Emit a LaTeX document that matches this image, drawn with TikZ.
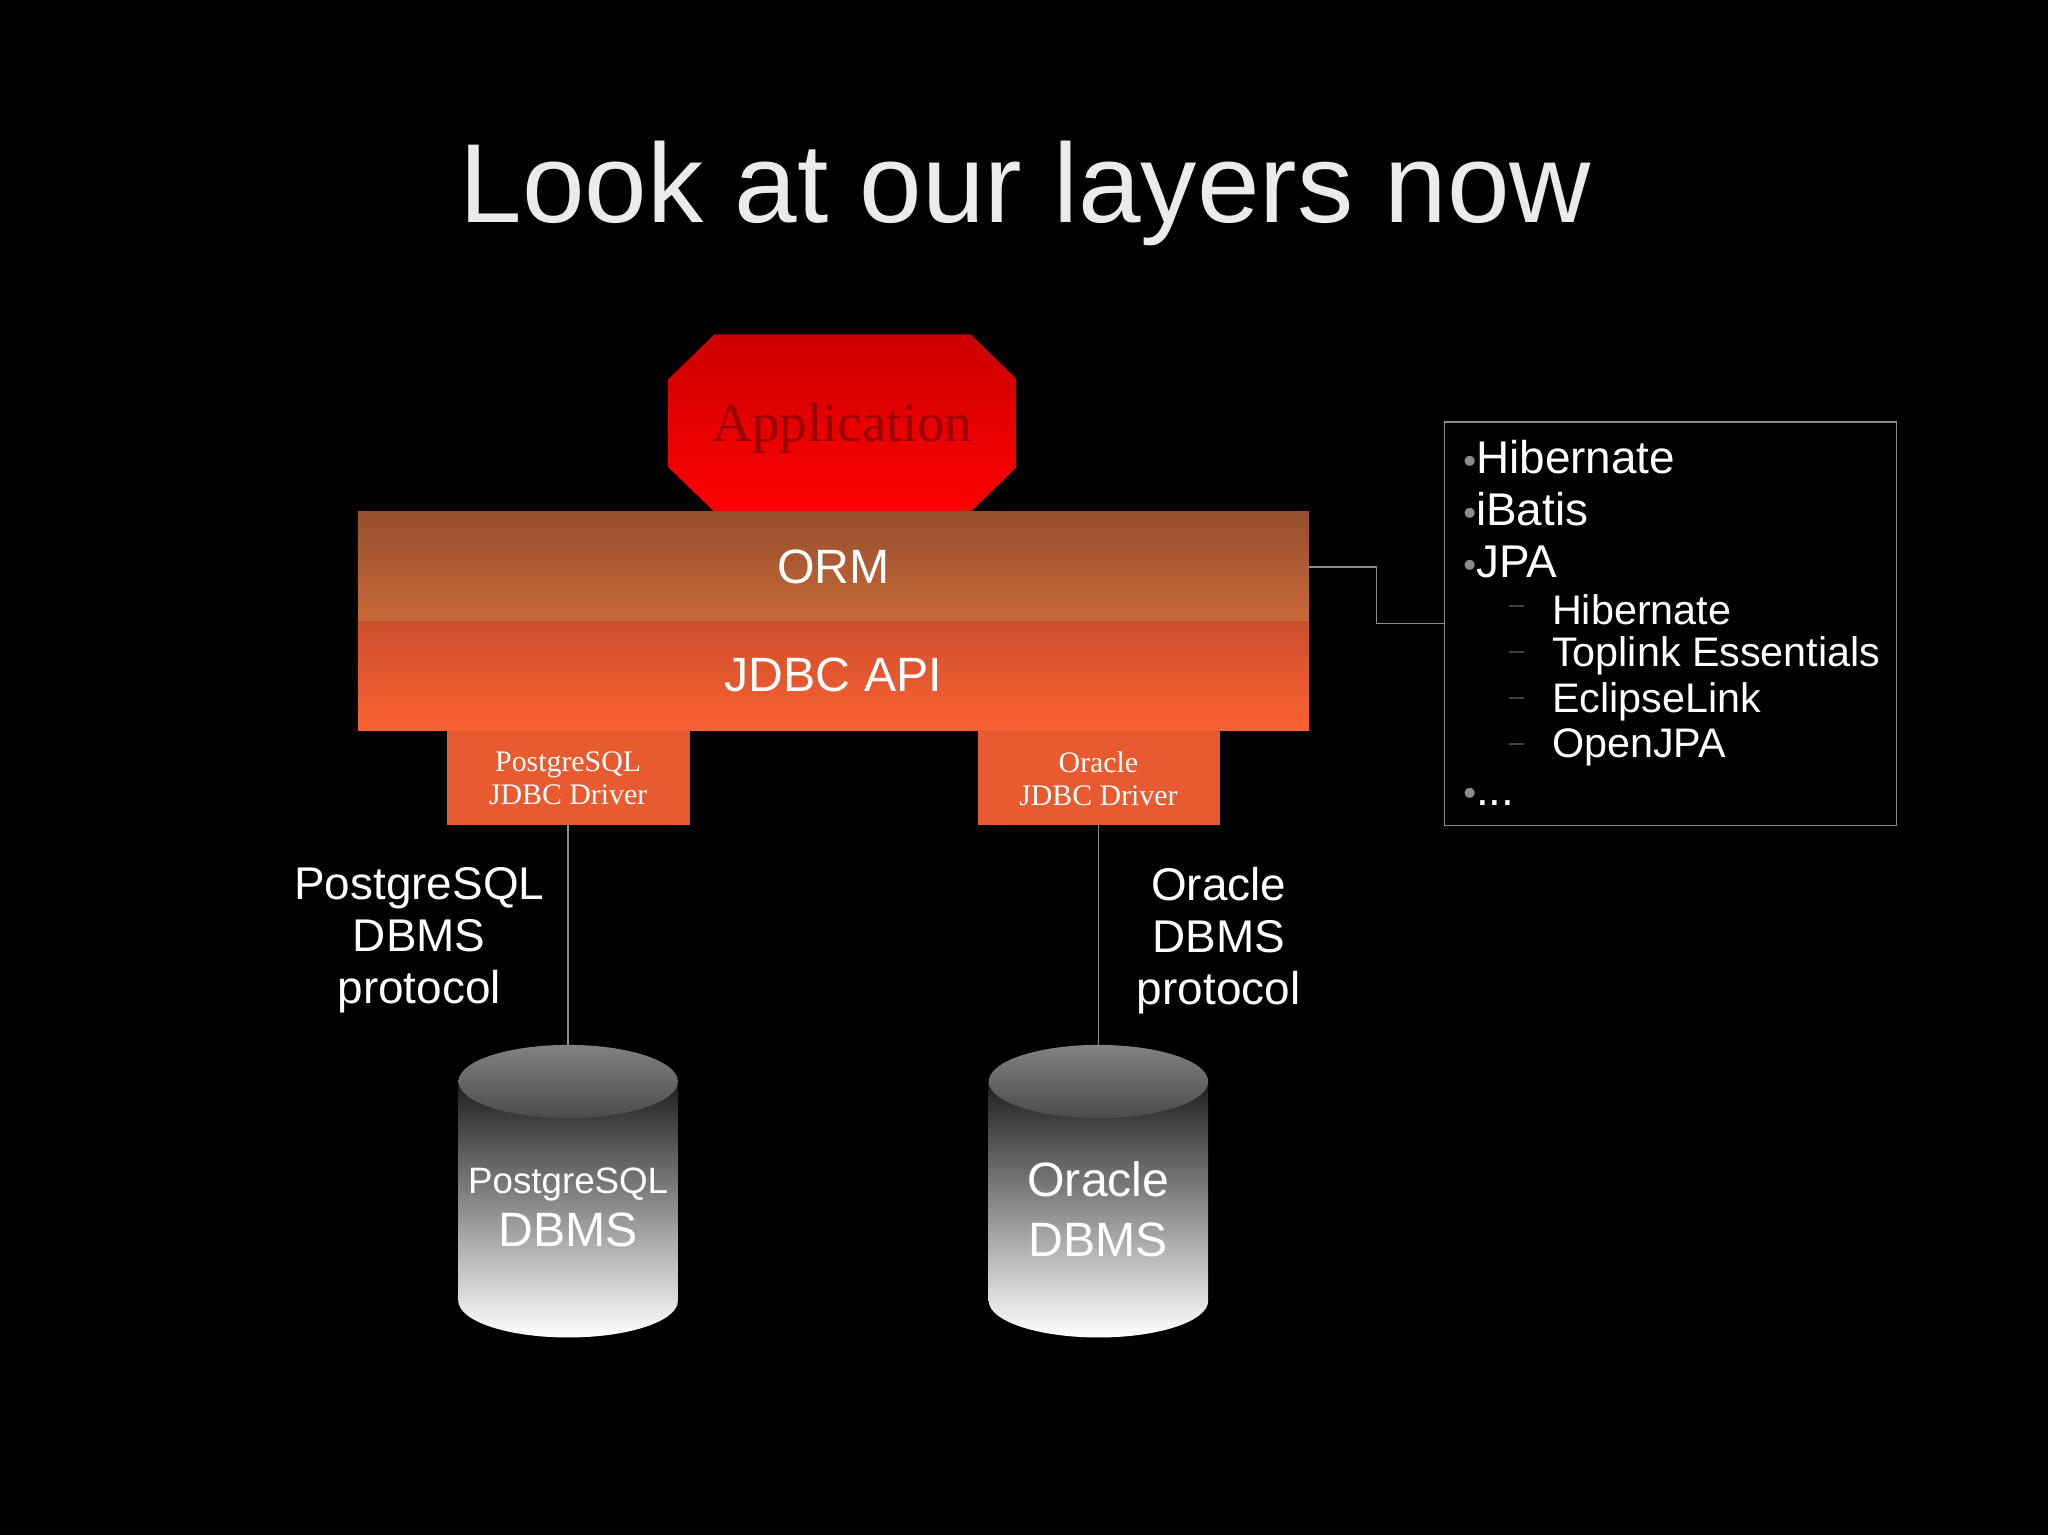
\documentclass[tikz,border=0pt]{standalone}
\usepackage{fontspec}
\setmainfont{Liberation Sans}
\newfontfamily\seriff{Liberation Serif}
\usetikzlibrary{shapes.geometric}
\definecolor{lgray}{RGB}{140,140,140}
\tikzset{
 every node/.style={inner sep=0pt,text=white},
 lbl/.style={font=\fontsize{20}{22.7}\selectfont,align=center},
 drv/.style={font=\seriff\fontsize{13}{14.5}\selectfont,align=center},
 conn/.style={draw=lgray,line width=0.6pt},
 li/.style={anchor=west,font=\fontsize{20}{22}\selectfont},
 sub/.style={anchor=west,font=\fontsize{18}{20}\selectfont},
}
\newcommand{\mybul}{{\color{lgray}\fontsize{16}{16}\selectfont\textbullet}}
\begin{document}
\begin{tikzpicture}[x=0.02cm,y=-0.02cm]
\fill[black] (0,0) rectangle (1568,1175);
\useasboundingbox (0,0) rectangle (1568,1175);
\node[font=\fontsize{49}{54}\selectfont,text=white!92!black] (title) at (785,148) {Look at our layers now};
% application
\shade[top color=red!80!black,bottom color=red] (547,256)--(743,256)--(778,290)--(778,358)--(743,392)--(547,392)--(512,358)--(512,290)--cycle;
\node[font=\seriff\fontsize{24}{26}\selectfont,text=red!60!black] (app) at (645,328) {Application};
% ORM / JDBC
\shade[top color={rgb,255:red,150;green,78;blue,45},bottom color={rgb,255:red,200;green,105;blue,58}] (274,392) rectangle (1002,476);
\shade[top color={rgb,255:red,205;green,78;blue,45},bottom color={rgb,255:red,250;green,98;blue,50}] (274,476) rectangle (1002,559);
\node[font=\fontsize{21}{24}\selectfont] (orm) at (638,434) {ORM};
\node[font=\fontsize{21}{24}\selectfont] (jdbc) at (638,517) {JDBC API};
\coordinate (ormr) at (1002,434);
% drivers
\fill[fill={rgb,255:red,232;green,90;blue,48}] (342,559) rectangle (528,632);
\fill[fill={rgb,255:red,232;green,90;blue,48}] (749,559) rectangle (934,632);
\node[drv] (pgd) at (435,596) {PostgreSQL\\JDBC Driver};
\node[drv] (ord) at (841,596) {Oracle\\JDBC Driver};
\coordinate (pgdb) at (435,632);
\coordinate (ordb) at (841,632);
% cylinders
\foreach \cx/\nm in {435/pgc,841/orc}{
 \shade[top color={rgb,255:red,30;green,30;blue,30},bottom color=white] (\cx-84,828) -- (\cx-84,996) arc[start angle=180,end angle=0,x radius=84,y radius=28] -- (\cx+84,828) -- cycle;
 \shade[top color={rgb,255:red,130;green,130;blue,130},bottom color={rgb,255:red,75;green,75;blue,75}] (\cx,828) ellipse[x radius=84,y radius=28];
 \coordinate (\nm) at (\cx,800);
}
\node[font=\fontsize{16}{18}\selectfont] (pgt) at (435,907) {PostgreSQL};
\node[font=\fontsize{21}{24}\selectfont] (pgt2) at (435,942) {DBMS};
\node[font=\fontsize{21}{26}\selectfont,align=center] (ort) at (841,926) {Oracle\\DBMS};
\draw[conn] (pgdb) -- (pgc);
\draw[conn] (ordb) -- (orc);
\node[lbl] (pgl) at (321,720) {PostgreSQL\\DBMS\\protocol};
\node[lbl] (orl) at (933,720) {Oracle\\DBMS\\protocol};
% list box
\node[draw=lgray,line width=0.6pt,minimum width=346*0.02cm,minimum height=309*0.02cm] (box) at (1279,477.5) {};
\draw[conn] (ormr) -- (1054,434) |- (box.west);
\node[li] (l1) at (1120,350) {\mybul Hibernate};
\node[li] (l2) at (1120,390) {\mybul iBatis};
\node[li] (l3) at (1120,430) {\mybul JPA};
\foreach \y/\t/\n in {467/Hibernate/s1,502/Toplink Essentials/s2,537/EclipseLink/s3,572/OpenJPA/s4}{
 \node[sub,text=lgray!50!black,font=\fontsize{12}{12}\selectfont] (d\n) at (1155,\y) {–};
 \node[sub] (\n) at (1188,\y) {\t};
}
\node[li] (l4) at (1120,610) {\mybul ...};
\end{tikzpicture}
\end{document}
